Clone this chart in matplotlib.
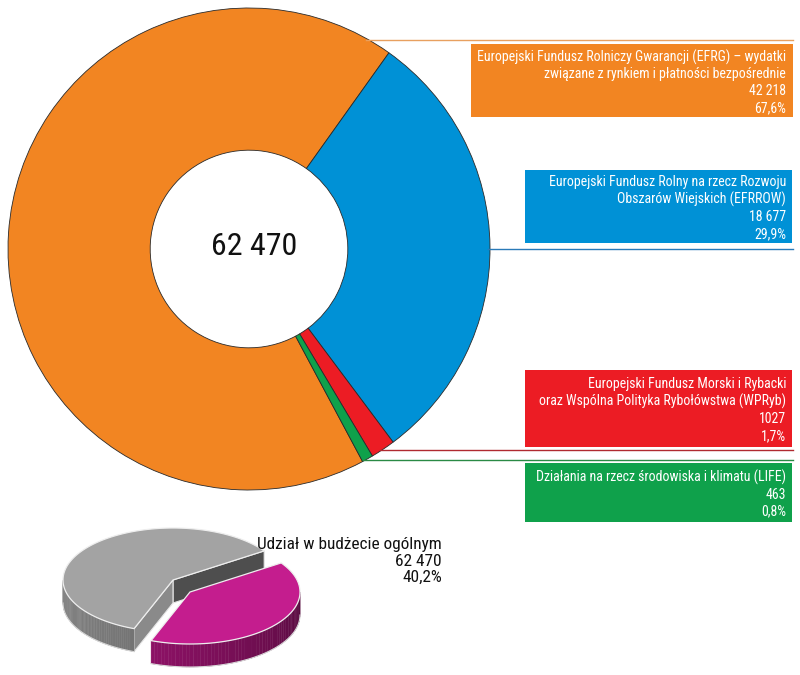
import numpy as np
import matplotlib.pyplot as plt
from matplotlib import font_manager
from matplotlib.colors import to_rgb
from matplotlib.patches import Rectangle, Polygon

# szukamy fontu wąskiego (jak Helvetica Condensed w oryginale)
narrow = None
cands = []
for f in font_manager.fontManager.ttflist:
    nm = f.name
    st = str(f.stretch)
    if f.style != 'normal' or f.weight not in (400, 'normal', 'regular'):
        continue
    if 'Narrow' in nm or 'Condensed' in nm or st in ('condensed', 'semi-condensed', 'extra-condensed'):
        cands.append((nm, st))
pref = ['Liberation Sans Narrow', 'Roboto Condensed', 'Open Sans Condensed', 'Noto Sans',
        'DejaVu Sans', 'DejaVu Sans Condensed']
for p in pref:
    for nm, st in cands:
        if nm == p:
            narrow = (nm, st)
            break
    if narrow:
        break
if narrow is None and cands:
    narrow = cands[0]
if narrow is None:
    narrow = ('Roboto', 'normal')
FONT = dict(family=[narrow[0], 'DejaVu Sans'], stretch=narrow[1] if narrow[1] != '500' else 'normal')

# dane
labels = [
    'Europejski Fundusz Rolniczy Gwarancji (EFRG) – wydatki\nzwiązane z rynkiem i płatności bezpośrednie',
    'Europejski Fundusz Rolny na rzecz Rozwoju\nObszarów Wiejskich (EFRROW)',
    'Europejski Fundusz Morski i Rybacki\noraz Wspólna Polityka Rybołówstwa (WPRyb)',
    'Działania na rzecz środowiska i klimatu (LIFE)',
]
values = [42218, 18677, 1027, 463]
value_labels = ['42 218', '18 677', '1027', '463']
pct_labels = ['67,6%', '29,9%', '1,7%', '0,8%']
colors = ['#f28522', '#0091d6', '#ec1c24', '#0fa14b']
total_label = '62 470'

share_values = [59.8, 40.2]          # reszta budżetu, udział
share_colors_top = ['#a3a3a3', '#c41d8e']
share_colors_side = ['#7a7a7a', '#7a0f58']
share_text = 'Udział w budżecie ogólnym\n62 470\n40,2%'

W, H = 800, 675
fig = plt.figure(figsize=(8, 6.75), dpi=100)

# wykres pierścieniowy
cx, cy, R = 249, 249, 241
axd = fig.add_axes([(cx - R) / W, (H - cy - R) / H, 2 * R / W, 2 * R / H])
start = 54.5 + 360 * values[0] / sum(values)
axd.pie(values, colors=colors, startangle=start, counterclock=False,
        wedgeprops=dict(width=0.59, edgecolor='#2a2a2a', linewidth=0.6))
axd.set_xlim(-1, 1)
axd.set_ylim(-1, 1)
axd.text(0.02, 0.01, total_label, ha='center', va='center', fontsize=23, color='#111', **FONT)

# warstwa z opisami (współrzędne w pikselach)
ax = fig.add_axes([0, 0, 1, 1])
ax.set_xlim(0, W)
ax.set_ylim(H, 0)
ax.axis('off')

boxes = [(471, 44, 322, 73), (525, 170, 267, 73), (525, 370, 267, 77), (525, 463, 267, 59)]
line_y = [39.5, 249, 450, 460]
line_col = ['#e8a060', '#2a7ab8', '#b02a30', '#2a8a45']
for i in range(4):
    x0, y0, w, h = boxes[i]
    ax.add_patch(Rectangle((x0, y0), w, h, facecolor=colors[i], edgecolor='none'))
    txt = labels[i] + '\n' + value_labels[i] + '\n' + pct_labels[i]
    ax.text(786, y0 + h / 2 + 1.5, txt, ha='right', va='center', color='white',
            fontsize=10, linespacing=1.25, **FONT)
    ly = line_y[i]
    dy = abs(ly - cy)
    xs = cx + np.sqrt(max(R ** 2 - dy ** 2, 0)) - 2
    ax.plot([xs, 793], [ly, ly], color=line_col[i], lw=1.0)

# mały wykres kołowy 3D
px, py, a, b, t = 173, 580, 110, 52, 23
off = [(0, 0), (17, 12)]
g0 = 34.0
spans = [360 * v / sum(share_values) for v in share_values]
ranges = [(g0, g0 + spans[0]), (g0 + spans[0] - 360, g0)]


def pt(ox, oy, ang, dz=0):
    r = np.radians(ang)
    return ox + a * np.cos(r), oy - b * np.sin(r) + dz


for k in range(2):
    ox, oy = px + off[k][0], py + off[k][1]
    t1, t2 = ranges[k]
    # ściany cięcia widoczne od przodu
    for ang, sgn in [(t1, -1), (t2, 1)]:
        normal = np.radians(ang + sgn * 90)
        if np.sin(normal) < 0:
            ex, ey = pt(ox, oy, ang)
            shade = '#4e4e4e' if k == 0 else '#5a0a40'
            if sgn == 1:
                shade = '#8a8a8a' if k == 0 else '#6a0a4a'
            ax.add_patch(Polygon([(ox, oy), (ex, ey), (ex, ey + t), (ox, oy + t)],
                                 closed=True, facecolor=shade, edgecolor='#e6e6e6', lw=0.8))
    # boczna ściana
    lo, hi = max(t1, -180), min(t2, 0)
    if t1 < 180 < t2:
        lo, hi = 180, min(t2, 360)
    if hi > lo:
        angs = np.linspace(lo, hi, 60)
        base = np.array(to_rgb(share_colors_side[k]))
        for j in range(len(angs) - 1):
            p1 = pt(ox, oy, angs[j]); p2 = pt(ox, oy, angs[j + 1])
            f = j / (len(angs) - 1)
            col = np.clip(base * (1.15 - 0.45 * f) if k == 1 else base * (1.1 - 0.15 * f), 0, 1)
            ax.add_patch(Polygon([p1, p2, (p2[0], p2[1] + t), (p1[0], p1[1] + t)], closed=True,
                                 facecolor=col, edgecolor=col, lw=0.3))
        angs = np.linspace(lo, hi, 80)
        xb, yb = zip(*[pt(ox, oy, q, t) for q in angs])
        ax.plot(xb, yb, color='#d8d8d8', lw=0.8)
    # górna powierzchnia
    angs = np.linspace(t1, t2, 120)
    poly = [(ox, oy)] + [pt(ox, oy, q) for q in angs]
    ax.add_patch(Polygon(poly, closed=True, facecolor=share_colors_top[k],
                         edgecolor='#eeeeee', lw=0.9))

ax.text(442, 561, share_text, ha='right', va='center', fontsize=12.4, color='#111',
        linespacing=1.1, **FONT)

fig.savefig('out.png', dpi=100)
